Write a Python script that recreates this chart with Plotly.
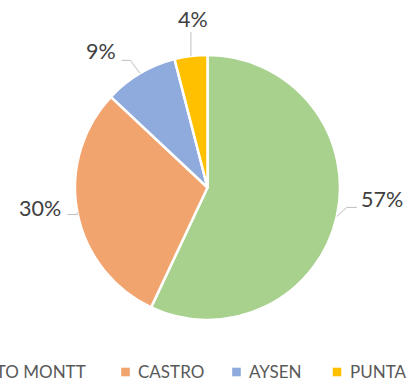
import math
import plotly.graph_objects as go

# Share of records per port
ports = ["PUERTO MONTT", "CASTRO", "AYSEN", "PUNTA ARENAS"]
shares = [57, 30, 9, 4]
colors = ["#A9D18E", "#F2A46F", "#8FAADC", "#FFC000"]

W, H = 408, 382
CX, CY, R = 207.5, 187.5, 132.5

# leader-line elbows relative to the slice edge, and text offset from line end
leader_steps = [
    [(10, -9), (20, -9)],
    [(0, 2.2), (-10, 2.2)],
    [(-9.6, -13.1), (-18.4, -13.1)],
    [(0, -24)],
]
text_offsets = [(2, -8, "left"), (-4, -6.5, "right"), (-4, -9, "right"), (2, -13, "center")]

# legend: square centre x per entry (pixels), row centre y
legend_marker_x = [-60, 125.5, 236.5, 337]
legend_y = 372


def px(x):
    return x / W


def py(y):
    return 1 - y / H


fig = go.Figure(
    go.Pie(
        labels=ports,
        values=shares,
        sort=False,
        direction="clockwise",
        rotation=0,
        marker=dict(colors=colors, line=dict(color="white", width=2.5)),
        textinfo="none",
        hoverinfo="skip",
        showlegend=False,
        domain=dict(x=[px(CX - R), px(CX + R)], y=[py(CY + R), py(CY - R)]),
    )
)

shapes = []
annotations = []
total = sum(shares)
cum = 0
for i, v in enumerate(shares):
    mid = (cum + v / 2) / total * 2 * math.pi
    cum += v
    ax = CX + R * math.sin(mid)
    ay = CY - R * math.cos(mid)
    pts = [(ax, ay)] + [(ax + dx, ay + dy) for dx, dy in leader_steps[i]]
    path = "M " + " L ".join(f"{px(x):.5f},{py(y):.5f}" for x, y in pts)
    shapes.append(dict(type="path", xref="paper", yref="paper", path=path,
                       line=dict(color="#BFBFBF", width=1)))
    ex, ey = pts[-1]
    ox, oy, anchor = text_offsets[i]
    pct = round(v / total * 100)
    annotations.append(dict(
        x=px(ex + ox), y=py(ey + oy), xref="paper", yref="paper",
        text=f"{pct}%", showarrow=False, xanchor=anchor, yanchor="middle",
        font=dict(family="Lato", size=21.5, color="#404040"),
    ))

for i, name in enumerate(ports):
    mx = legend_marker_x[i]
    shapes.append(dict(type="rect", xref="paper", yref="paper",
                       x0=px(mx - 4.3), x1=px(mx + 4.3),
                       y0=py(legend_y + 4.3), y1=py(legend_y - 4.3),
                       fillcolor=colors[i], line=dict(width=0)))
    annotations.append(dict(
        x=px(mx + 10.5), y=py(legend_y - 0.5), xref="paper", yref="paper",
        text=name, showarrow=False, xanchor="left", yanchor="middle",
        font=dict(family="Lato", size=17, color="#595959"),
    ))

fig.update_layout(
    width=W, height=H,
    margin=dict(l=0, r=0, t=0, b=0),
    paper_bgcolor="white", plot_bgcolor="white",
    shapes=shapes, annotations=annotations,
)

fig.write_html("out.html")
